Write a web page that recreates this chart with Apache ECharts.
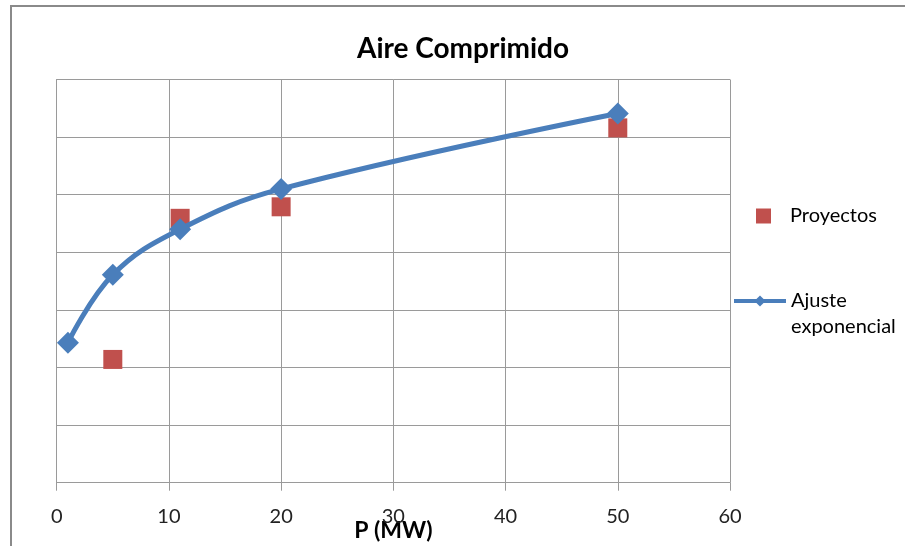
<!DOCTYPE html>
<html>
<head>
<meta charset="utf-8">
<script src="https://cdn.jsdelivr.net/npm/echarts@6/dist/echarts.min.js"></script>
<style>html,body{margin:0;padding:0;background:#fff}#c{width:905px;height:546px}</style>
</head>
<body>
<div id="c"></div>
<script>
const titleText = 'Aire Comprimido';
const xName = 'P (MW)';
const projX = [5, 11, 20, 50];
const projY = [2.14, 4.59, 4.79, 6.16];
const fitX = [1, 5, 11, 20, 50];
const fitY = [2.43, 3.61, 4.40, 5.10, 6.41];
const seriesNames = ['Proyectos', 'Ajuste exponencial'];

const FONT = 'Lato, "Open Sans", sans-serif';
const chart = echarts.init(document.getElementById('c'), null, {renderer: 'canvas'});
chart.setOption({
  animation: false,
  backgroundColor: '#fff',
  title: {
    text: titleText, left: 458, top: 30, textAlign: 'center',
    textStyle: {fontFamily: FONT, fontWeight: 'bold', fontSize: 28, color: '#000'}
  },
  graphic: [{
    type: 'rect', shape: {x: 11, y: 6, width: 1000, height: 1000},
    style: {fill: null, stroke: '#8a8a8a', lineWidth: 2}, silent: true, z: -1
  }],
  legend: [{
    data: [seriesNames[0]], left: 751, top: 201, orient: 'vertical',
    itemWidth: 15, itemHeight: 15, itemGap: 10,
    textStyle: {fontFamily: FONT, fontSize: 20, color: '#000', padding: [0, 0, 0, 14]}
  }, {
    data: [{name: seriesNames[1]}], left: 732, top: 262, orient: 'vertical', padding: 0,
    itemWidth: 52, itemHeight: 14,
    lineStyle: {width: 4},
    formatter: () => '\nAjuste\nexponencial',
    textStyle: {fontFamily: FONT, fontSize: 20, color: '#000', lineHeight: 26}
  }],
  grid: {left: 56.7, right: 175, top: 79.5, bottom: 63.3, containLabel: false, outerBoundsMode: 'none'},
  xAxis: {
    type: 'value', min: 0, max: 60, interval: 10,
    name: xName, nameLocation: 'middle', nameGap: 36, nameMoveOverlap: false,
    nameTextStyle: {fontFamily: FONT, fontWeight: 'bold', fontSize: 23, color: '#000'},
    axisLine: {show: true, lineStyle: {color: '#9a9a9a', width: 1}},
    axisTick: {show: true, length: 8, lineStyle: {color: '#9a9a9a'}},
    axisLabel: {fontFamily: FONT, fontSize: 20, color: '#222', margin: 24},
    splitLine: {show: true, lineStyle: {color: '#9a9a9a', width: 1}}
  },
  yAxis: {
    type: 'value', min: 0, max: 7, interval: 1,
    axisLine: {show: true, lineStyle: {color: '#9a9a9a', width: 1}},
    axisTick: {show: false},
    axisLabel: {show: false},
    splitLine: {show: true, lineStyle: {color: '#9a9a9a', width: 1}}
  },
  series: [{
    name: seriesNames[0], type: 'scatter',
    data: projX.map((x, i) => [x, projY[i]]),
    symbol: 'rect', symbolSize: 19,
    itemStyle: {color: '#C0504D', opacity: 1}, z: 2
  }, {
    name: seriesNames[1], type: 'line',
    data: fitX.map((x, i) => [x, fitY[i]]),
    smooth: 0.4,
    symbol: 'diamond', symbolSize: 22,
    lineStyle: {color: '#4A7EBB', width: 5},
    itemStyle: {color: '#4A7EBB'}, z: 3
  }]
});
</script>
</body>
</html>
